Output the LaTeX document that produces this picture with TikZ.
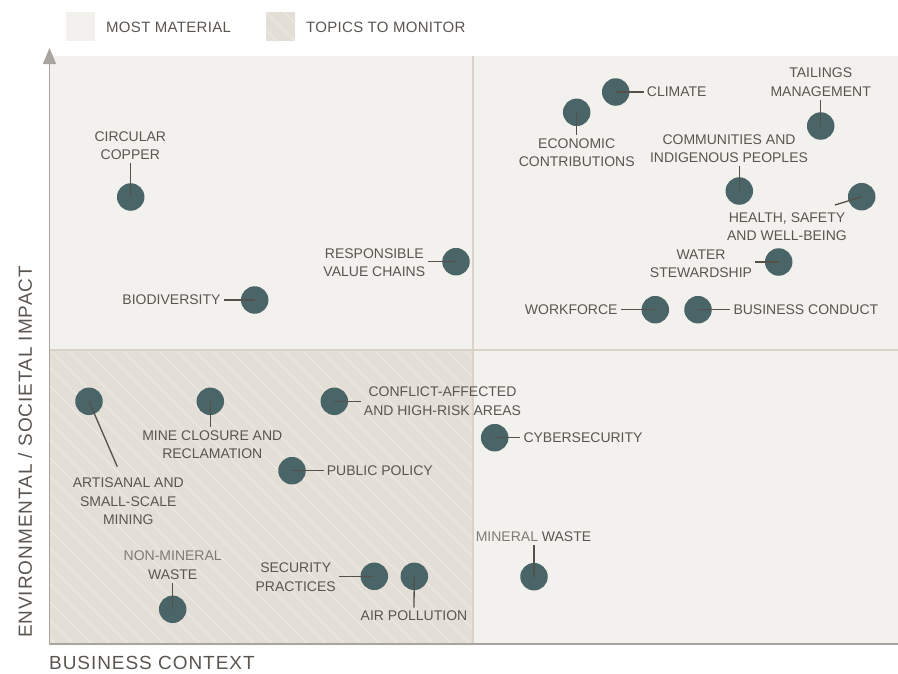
\documentclass[tikz,border=0pt]{standalone}
\usepackage{fontspec}
\setmainfont{Liberation Sans}
\usepackage{tikz}
\usetikzlibrary{arrows.meta}
\usetikzlibrary{calc}

\definecolor{panel}{HTML}{F2F1ED}
\definecolor{hatchfill}{HTML}{E3DFD7}
\definecolor{hatchline}{HTML}{EEEBE5}
\definecolor{divider}{HTML}{D9D3C7}
\definecolor{axisgrey}{HTML}{A8A49E}
\definecolor{dotgrey}{HTML}{4A6567}
\definecolor{leadgrey}{HTML}{555049}
\definecolor{textgrey}{HTML}{5A5550}
\definecolor{lighttext}{HTML}{7E7A74}

\tikzset{
  dot/.style={circle,fill=dotgrey,minimum size=27.5pt,inner sep=0pt},
  lead/.style={draw=leadgrey,line width=1.3pt},
  lbl/.style={text=textgrey,font=\fontsize{14}{18.5}\selectfont,align=center,inner sep=3pt},
  legend/.style={text=textgrey,font=\fontsize{15}{18}\selectfont\addfontfeatures{LetterSpace=2},anchor=west,inner sep=0pt},
  axislbl/.style={text=textgrey,font=\fontsize{19}{23}\selectfont\addfontfeatures{LetterSpace=5},inner sep=0pt},
}

\begin{document}
\begin{tikzpicture}[x=1pt,y=-1pt]
  \useasboundingbox (0,0) rectangle (898,673);
  % quadrants
  \fill[panel] (49,56) rectangle (898,644);
  \fill[hatchfill] (49,350) rectangle (472,644);
  \begin{scope}
    \clip (49,350) rectangle (472,644);
    \foreach \i in {-256,-238,...,480}
      \draw[hatchline,line width=0.9pt] (\i,350) -- ++(300,300);
  \end{scope}
  \draw[divider,line width=2pt] (472.5,56) -- (472.5,644);
  \draw[divider,line width=2pt] (49,350) -- (898,350);
  % axes
  \draw[axisgrey,line width=1.3pt,-{Triangle[width=13pt,length=16pt]}] (49.5,644) -- (49.5,48);
  \draw[axisgrey,line width=1.6pt] (49,644) -- (898,644);
  \node[axislbl,rotate=90] (impact) at (25,452) {ENVIRONMENTAL / SOCIETAL IMPACT};
  \node[axislbl,anchor=west] (context) at (49,663) {BUSINESS CONTEXT};

  % legend
  \fill[panel] (66,12) rectangle (95,41);
  \node[legend] (most) at (106,27) {MOST MATERIAL};
  \fill[hatchfill] (266,12) rectangle (295,41);
  \begin{scope}
    \clip (266,12) rectangle (295,41);
    \foreach \i in {230,248,...,300}
      \draw[hatchline,line width=0.9pt] (\i,12) -- ++(40,40);
  \end{scope}
  \node[legend] (monitor) at (306,27) {TOPICS TO MONITOR};

  % most material, high business context
  \node[dot] (climate) at (615.7,92) {};
  \node[lbl,anchor=west] (climate-l) at (643.7,92) {CLIMATE};
  \draw[lead] (climate.center) -- (climate-l.west);

  \node[dot] (economic) at (576.7,112.3) {};
  \node[lbl] (economic-l) at (576.7,152.8) {ECONOMIC\\CONTRIBUTIONS};
  \draw[lead] (economic.center) -- (economic-l.north);

  \node[dot] (tailings) at (820.7,126) {};
  \node[lbl] (tailings-l) at (820.7,82.2) {TAILINGS\\MANAGEMENT};
  \draw[lead] (tailings.center) -- (tailings-l.south);

  \node[dot] (communities) at (739.3,191) {};
  \node[lbl] (communities-l) at (729,148.8) {COMMUNITIES AND\\INDIGENOUS PEOPLES};
  \draw[lead] (communities.center) -- (communities.center |- communities-l.south);

  \node[dot] (health) at (861.7,196.7) {};
  \node[lbl] (health-l) at (787,226.7) {HEALTH, SAFETY\\AND WELL-BEING};
  \coordinate (health-e) at (835,205);
  \draw[lead] (health.center) -- (health-e);

  \node[dot] (water) at (778.7,262) {};
  \node[lbl] (water-l) at (701,263.8) {WATER\\STEWARDSHIP};
  \draw[lead] (water.center) -- (water.center -| water-l.east);

  \node[dot] (workforce) at (655.3,309.7) {};
  \node[lbl,anchor=east] (workforce-l) at (620.7,309.7) {WORKFORCE};
  \draw[lead] (workforce.center) -- (workforce-l.east);

  \node[dot] (conduct) at (698,309.7) {};
  \node[lbl,anchor=west] (conduct-l) at (730.3,309.7) {BUSINESS CONDUCT};
  \draw[lead] (conduct.center) -- (conduct-l.west);

  % most material, lower business context
  \node[dot] (copper) at (130.7,197) {};
  \node[lbl] (copper-l) at (130.3,145.5) {CIRCULAR\\COPPER};
  \draw[lead] (copper.center) -- (copper.center |- copper-l.south);

  \node[dot] (biodiversity) at (254.7,300) {};
  \node[lbl,anchor=east] (biodiversity-l) at (223.7,300) {BIODIVERSITY};
  \draw[lead] (biodiversity.center) -- (biodiversity-l.east);

  \node[dot] (valuechains) at (456,261.7) {};
  \node[lbl] (valuechains-l) at (374.3,262.7) {RESPONSIBLE\\VALUE CHAINS};
  \draw[lead] (valuechains.center) -- (valuechains.center -| valuechains-l.east);

  % topics to monitor
  \node[dot] (artisanal) at (89,401.3) {};
  \node[lbl] (artisanal-l) at (128.3,501.6) {ARTISANAL AND\\SMALL-SCALE\\MINING};
  \coordinate (artisanal-e) at (117.3,466.7);
  \draw[lead] (artisanal.center) -- (artisanal-e);

  \node[dot] (closure) at (210.3,401.3) {};
  \node[lbl] (closure-l) at (212.3,444.7) {MINE CLOSURE AND\\RECLAMATION};
  \draw[lead] (closure.center) -- (closure.center |- closure-l.north);

  \node[dot] (conflict) at (334.3,401.3) {};
  \node[lbl] (conflict-l) at (442.5,401.2) {CONFLICT-AFFECTED\\AND HIGH-RISK AREAS};
  \draw[lead] (conflict.center) -- (conflict.center -| conflict-l.west);

  \node[dot] (policy) at (292,470.7) {};
  \node[lbl,anchor=west] (policy-l) at (323.7,470.7) {PUBLIC POLICY};
  \draw[lead] (policy.center) -- (policy-l.west);

  \node[dot] (nonmineral) at (172.7,609.3) {};
  \node[lbl] (nonmineral-l) at (172.7,565.2) {\textcolor{lighttext}{NON-MINERAL}\\WASTE};
  \draw[lead] (nonmineral.center) -- (nonmineral-l.south);

  \node[dot] (security) at (374.3,576.3) {};
  \node[lbl] (security-l) at (295.7,577.3) {SECURITY\\PRACTICES};
  \draw[lead] (security.center) -- (security.center -| security-l.east);

  \node[dot] (air) at (414.3,576.3) {};
  \node[lbl] (air-l) at (414,615.7) {AIR POLLUTION};
  \draw[lead] (air.center) -- (air-l.north);

  % bottom right
  \node[dot] (cyber) at (494.7,437.7) {};
  \node[lbl,anchor=west] (cyber-l) at (520.3,437.7) {CYBERSECURITY};
  \draw[lead] (cyber.center) -- (cyber-l.west);

  \node[dot] (mineral) at (534,576.7) {};
  \node[lbl] (mineral-l) at (533.5,536.7) {\textcolor{lighttext}{MINERAL} WASTE};
  \draw[lead] (mineral.center) -- (mineral.center |- mineral-l.south);
\end{tikzpicture}
\end{document}
